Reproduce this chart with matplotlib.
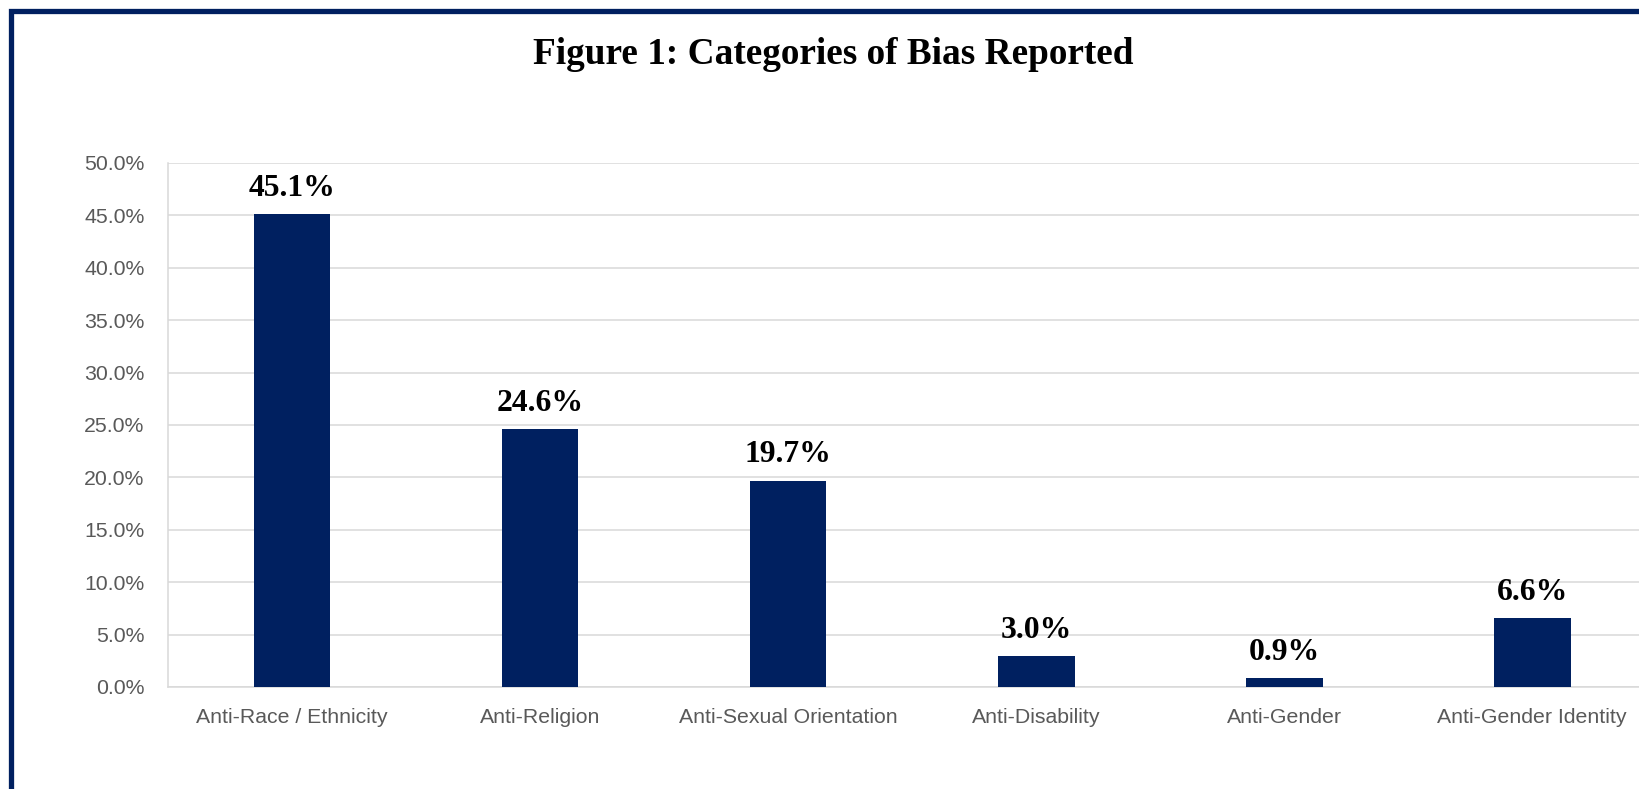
import matplotlib
matplotlib.use("Agg")
import matplotlib.pyplot as plt
from matplotlib.patches import Rectangle
from matplotlib.ticker import FuncFormatter, MultipleLocator

# Data
categories = ["Anti-Race / Ethnicity", "Anti-Religion", "Anti-Sexual Orientation",
              "Anti-Disability", "Anti-Gender", "Anti-Gender Identity"]
shares = [45.1, 24.6, 19.7, 3.0, 0.9, 6.6]

navy = "#002060"
grey_text = "#595959"
grid_col = "#d9d9d9"

W, H = 1640, 789
fig = plt.figure(figsize=(W / 100, H / 100), dpi=100)

ax = fig.add_axes([168 / W, 1 - 687 / H, 1 - 168 / W, (687 - 163) / H])
x = range(len(categories))
bars = ax.bar(x, shares, width=0.31, color=navy, zorder=3)

ax.set_xlim(-0.5, 5.435)
ax.set_ylim(0, 50)
ax.yaxis.set_major_locator(MultipleLocator(5))
ax.yaxis.set_major_formatter(FuncFormatter(lambda v, p: f"{v:.1f}%"))
ax.set_xticks(list(x))
ax.set_xticklabels(categories)

ax.grid(axis="y", color=grid_col, linewidth=1.1, zorder=0)
for side in ["top", "right"]:
    ax.spines[side].set_visible(False)
for side in ["left", "bottom"]:
    ax.spines[side].set_color(grid_col)
    ax.spines[side].set_linewidth(1.1)

ax.tick_params(axis="y", length=0, pad=17, labelsize=15.3, labelcolor=grey_text)
ax.tick_params(axis="x", length=0, pad=15, labelsize=15.3, labelcolor=grey_text)
for lab in ax.get_xticklabels() + ax.get_yticklabels():
    lab.set_fontfamily("Liberation Sans")

# value labels above the bars
for b, v in zip(bars, shares):
    ax.annotate(f"{v:.1f}%", (b.get_x() + b.get_width() / 2, v),
                xytext=(0, 13), textcoords="offset points",
                ha="center", va="baseline", fontsize=22.8,
                fontweight="bold", family="Liberation Serif", color="black")

fig.text(833 / W, 1 - 64 / H, "Figure 1: Categories of Bias Reported",
         ha="center", va="baseline", fontsize=26.8, fontweight="bold",
         family="Liberation Serif", color="black")

# dark frame, cut off on the right and bottom like the source
frame = Rectangle((11.5 / W, -0.1), 1.2, 1.1 - 10.5 / H, transform=fig.transFigure,
                  fill=False, edgecolor=navy, linewidth=3.8, zorder=10)
fig.patches.append(frame)

fig.savefig("out.png", dpi=100)
